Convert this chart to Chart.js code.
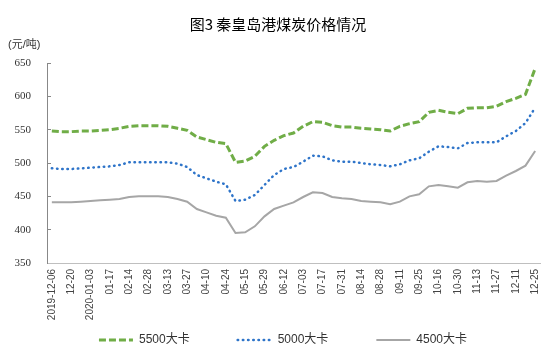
<!DOCTYPE html>
<html>
<head>
<meta charset="utf-8">
<title>秦皇岛港煤炭价格情况</title>
<script src="https://cdn.jsdelivr.net/npm/chart.js@4.4.0/dist/chart.umd.min.js"></script>
<style>
    html, body { margin: 0; padding: 0; background: #fff; }
    #wrap { width: 559px; height: 362px; }
</style>
</head>
<body>
<div id="wrap">
    <canvas id="coalChart" width="559" height="362"></canvas>
</div>
<script>
// weekly dates, every other one is shown on the axis
const dates = [
    '2019-12-06', '12-13', '12-20', '12-27', '2020-01-03', '01-10', '01-17', '02-07',
    '02-14', '02-21', '02-28', '03-06', '03-13', '03-20', '03-27', '04-03',
    '04-10', '04-17', '04-24', '05-08', '05-15', '05-22', '05-29', '06-05',
    '06-12', '06-19', '07-03', '07-10', '07-17', '07-24', '07-31', '08-07',
    '08-14', '08-21', '08-28', '09-04', '09-11', '09-18', '09-25', '10-09',
    '10-16', '10-23', '10-30', '11-06', '11-13', '11-20', '11-27', '12-04',
    '12-11', '12-18', '12-25'
];

const price5500 = [
    548, 547, 547, 548, 548, 549, 550, 552, 555, 556,
    556, 556, 555, 552, 549, 539, 535, 531, 529, 501,
    503, 510, 525, 534, 541, 545, 555, 562, 561, 556,
    554, 554, 552, 551, 550, 548, 555, 559, 562, 576,
    579, 576, 574, 582, 583, 583, 585, 592, 597, 603,
    642
];

const price5000 = [
    492, 491, 491, 492, 493, 494, 495, 497, 501, 501,
    501, 501, 501, 499, 494, 482, 477, 472, 468, 443,
    445, 452, 467, 482, 491, 494, 502, 511, 510, 504,
    502, 502, 500, 498, 497, 495, 498, 504, 507, 517,
    525, 524, 522, 530, 531, 531, 531, 540, 548, 560,
    583
];

const price4500 = [
    441, 441, 441, 442, 443, 444, 445, 446, 449, 450,
    450, 450, 449, 446, 442, 431, 426, 421, 418, 395,
    396, 405, 420, 431, 436, 441, 449, 456, 455, 449,
    447, 446, 443, 442, 441, 438, 442, 450, 453, 465,
    467, 465, 463, 471, 473, 472, 473, 481, 488, 496,
    518
];

const seriesNames = ['5500大卡', '5000大卡', '4500大卡'];
const yTicks = { min: 350, max: 650, step: 50 };

const cjk = '"Liberation Sans", "Noto Sans CJK SC", sans-serif';

// unit text in the top left corner
const unitLabel = {
    id: 'unitLabel',
    afterDraw(chart) {
        const ctx = chart.ctx;
        ctx.save();
        ctx.font = '11px ' + cjk;
        ctx.fillStyle = '#333';
        ctx.textBaseline = 'middle';
        ctx.fillText('(元/吨)', 8, 45);
        ctx.restore();
    }
};

// the legend needs wide gaps between items but sits close under the tick labels,
// so move it (and the title) a bit after chart.js has laid things out
const nudgeBoxes = {
    id: 'nudgeBoxes',
    afterLayout(chart) {
        const lg = chart.legend;
        const dy = lg.top - 286;
        lg.top -= dy;
        lg.bottom -= dy;
        lg.left += 13;
        lg.right += 13;
        const tb = chart.titleBlock;
        tb.left += 8;
        tb.right += 8;
    }
};

// legend swatches drawn as short lines with the same dash as the series
const lineLegendItems = (chart) => chart.data.datasets.map((ds, i) => ({
    text: ds.label,
    datasetIndex: i,
    hidden: false,
    pointStyle: 'line',
    fillStyle: ds.borderColor,
    strokeStyle: ds.borderColor,
    lineWidth: ds.borderWidth,
    lineDash: ds.borderDash || [],
    lineCap: ds.borderCapStyle || 'butt',
    fontColor: '#333'
}));

new Chart(document.getElementById('coalChart'), {
    type: 'line',
    data: {
        labels: dates,
        datasets: [{
            label: seriesNames[0],
            data: price5500,
            borderColor: '#70AD47',
            borderWidth: 3,
            borderDash: [7, 3],
            pointRadius: 0,
            tension: 0
        }, {
            label: seriesNames[1],
            data: price5000,
            borderColor: '#2E74C9',
            borderWidth: 2.5,
            borderDash: [0.5, 4.7],
            borderCapStyle: 'round',
            pointRadius: 0,
            tension: 0
        }, {
            label: seriesNames[2],
            data: price4500,
            borderColor: '#A6A6A6',
            borderWidth: 2,
            pointRadius: 0,
            tension: 0
        }]
    },
    options: {
        responsive: false,
        animation: false,
        devicePixelRatio: 1,
        layout: { padding: { left: 0, right: 19, top: 0, bottom: -31 } },
        plugins: {
            title: {
                display: true,
                text: '图3 秦皇岛港煤炭价格情况',
                color: '#000',
                font: { family: '"Noto Sans CJK SC", sans-serif', size: 15, weight: 'normal' },
                padding: { top: 15, bottom: 30 }
            },
            legend: {
                position: 'bottom',
                labels: {
                    usePointStyle: true,
                    pointStyle: 'line',
                    pointStyleWidth: 34,
                    padding: 48,
                    color: '#333',
                    font: { family: cjk, size: 12 },
                    generateLabels: lineLegendItems
                }
            },
            tooltip: { enabled: false }
        },
        scales: {
            x: {
                offset: true,
                grid: { display: false, drawTicks: false },
                border: { display: true, color: '#BFBFBF', width: 1 },
                ticks: {
                    autoSkip: false,
                    minRotation: 90,
                    maxRotation: 90,
                    padding: 6,
                    color: '#444',
                    font: { family: '"Liberation Sans", sans-serif', size: 10 },
                    callback: function (val, idx) {
                        return idx % 2 === 0 ? this.getLabelForValue(val) : '';
                    }
                },
                afterFit: (scale) => { scale.height = 60; }
            },
            y: {
                min: yTicks.min,
                max: yTicks.max,
                grid: { drawOnChartArea: false, tickLength: -4, color: '#888' },
                border: { display: true, color: '#888', width: 1 },
                ticks: {
                    stepSize: yTicks.step,
                    padding: 20,
                    color: '#333',
                    font: { family: '"Liberation Serif", serif', size: 11 }
                },
                afterFit: (scale) => { scale.width = 47; }
            }
        }
    },
    plugins: [unitLabel, nudgeBoxes]
});
</script>
</body>
</html>
